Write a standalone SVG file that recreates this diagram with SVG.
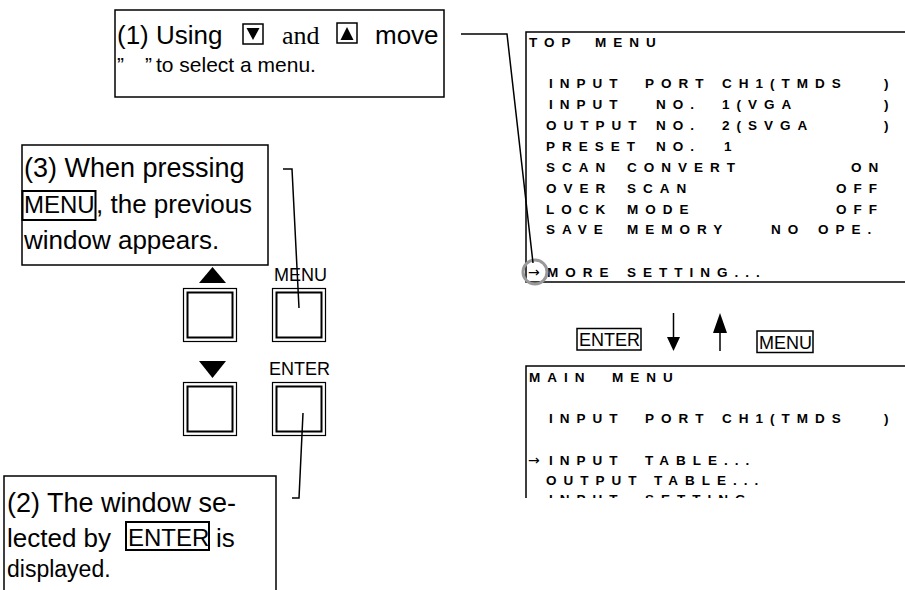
<svg xmlns="http://www.w3.org/2000/svg" width="905" height="590" viewBox="0 0 905 590">
<defs>
<style>
.s{font-family:"Liberation Sans",Arial,sans-serif;fill:#000}
.t{font-size:26px}
.t1{font-size:27px}
.lb{font-size:18px}
.m{font-family:"Liberation Sans",Arial,sans-serif;font-weight:bold;font-size:13.5px;letter-spacing:7px;fill:#000}
.ar{font-family:"DejaVu Sans","Liberation Sans",sans-serif;font-size:14px;fill:#000}
.box{fill:#fff;stroke:#000;stroke-width:1.5}
.ln{fill:none;stroke:#000;stroke-width:1.5}
.kb{fill:none;stroke:#000;stroke-width:2}
.ic{fill:none;stroke:#000;stroke-width:1.5}
.bo{fill:#fff;stroke:#000;stroke-width:1.2}
.bi{fill:none;stroke:#000;stroke-width:2}
</style>
<clipPath id="clipMain"><rect x="0" y="0" width="905" height="498"/></clipPath>
</defs>
<rect width="905" height="590" fill="#fff"/>

<g id="note1">
<rect class="box" x="115" y="10" width="329" height="87"/>
<text class="s t" x="117" y="44">(1) Using</text>
<rect class="ic" x="243" y="24" width="20" height="20"/>
<polygon points="246.5,28 259.5,28 253,40"/>
<text x="282" y="44" font-family="'Liberation Serif',serif" font-size="26">and</text>
<rect class="ic" x="337" y="23" width="20" height="20"/>
<polygon points="340.5,40 353.5,40 347,27"/>
<text class="s t" x="375" y="44">move</text>
<text class="s" font-size="21" x="117" y="72">”</text>
<text class="s" font-size="21" x="145" y="72">”</text>
<text class="s" font-size="21" x="156" y="72">to select a menu.</text>
</g>

<g id="note3">
<rect class="box" x="22" y="145" width="246" height="120"/>
<text class="s t1" x="24" y="177">(3) When pressing</text>
<rect class="kb" x="22.5" y="191" width="73" height="29"/>
<text class="s" font-size="24" x="24" y="213">MENU</text>
<text class="s t" x="96" y="213">, the previous</text>
<text class="s t" x="24" y="249">window appears.</text>
</g>

<g id="note2">
<rect class="box" x="4" y="476" width="272" height="130"/>
<text class="s t1" x="7" y="512">(2) The window se-</text>
<text class="s t" x="7" y="547">lected by</text>
<rect class="kb" x="126" y="522" width="83" height="28"/>
<text class="s" font-size="24" x="128" y="546">ENTER</text>
<text class="s t" x="216" y="547">is</text>
<text class="s" font-size="23" x="7" y="577">displayed.</text>
</g>

<g id="btn-up">
<polygon points="199,283 226,283 212.5,267"/>
<rect class="bo" x="183.5" y="288.5" width="53" height="53"/>
<rect class="bi" x="187.5" y="292.5" width="45" height="45"/>
</g>
<g id="btn-menu">
<text class="s lb" x="274" y="281">MENU</text>
<rect class="bo" x="272.5" y="288.5" width="53" height="53"/>
<rect class="bi" x="276.5" y="292.5" width="45" height="45"/>
</g>
<g id="btn-down">
<polygon points="199,361 226,361 212.5,378"/>
<rect class="bo" x="183.5" y="382.5" width="53" height="53"/>
<rect class="bi" x="187.5" y="386.5" width="45" height="45"/>
</g>
<g id="btn-enter">
<text class="s lb" x="269" y="375">ENTER</text>
<rect class="bo" x="272.5" y="382.5" width="53" height="53"/>
<rect class="bi" x="276.5" y="386.5" width="45" height="45"/>
</g>

<g id="top-menu">
<path class="ln" d="M905,32 H526 V282 H905"/>
<text class="m" y="47"><tspan x="529">TOP</tspan><tspan x="595">MENU</tspan></text>
<text class="m" y="88"><tspan x="549">INPUT</tspan><tspan x="645">PORT</tspan><tspan x="722">CH1(TMDS</tspan><tspan x="884">)</tspan></text>
<text class="m" y="109"><tspan x="549">INPUT</tspan><tspan x="656">NO.</tspan><tspan x="722">1(VGA</tspan><tspan x="884">)</tspan></text>
<text class="m" y="130"><tspan x="546">OUTPUT</tspan><tspan x="656">NO.</tspan><tspan x="722">2(SVGA</tspan><tspan x="884">)</tspan></text>
<text class="m" y="151"><tspan x="546">PRESET</tspan><tspan x="656">NO.</tspan><tspan x="724">1</tspan></text>
<text class="m" y="172"><tspan x="546">SCAN</tspan><tspan x="627">CONVERT</tspan><tspan x="851">ON</tspan></text>
<text class="m" y="193"><tspan x="546">OVER</tspan><tspan x="627">SCAN</tspan><tspan x="836">OFF</tspan></text>
<text class="m" y="214"><tspan x="546">LOCK</tspan><tspan x="627">MODE</tspan><tspan x="836">OFF</tspan></text>
<text class="m" y="234"><tspan x="546">SAVE</tspan><tspan x="627">MEMORY</tspan><tspan x="771">NO</tspan><tspan x="818">OPE.</tspan></text>
<text class="ar" x="528" y="277">→</text>
<text class="m" y="277"><tspan x="547">MORE</tspan><tspan x="627">SETTING...</tspan></text>
<circle cx="535" cy="272" r="12" fill="none" stroke="#999" stroke-width="3"/>
</g>

<g id="nav">
<rect class="ic" x="577" y="328.5" width="64" height="21.5"/>
<text class="s lb" x="579" y="346">ENTER</text>
<line class="ln" x1="673.5" y1="313" x2="673.5" y2="339"/>
<polygon points="667,337 680,337 673.5,351"/>
<line class="ln" x1="720" y1="331" x2="720" y2="351"/>
<polygon points="713,333 727,333 720,313"/>
<rect class="ic" x="757" y="331" width="56" height="21.5"/>
<text class="s lb" x="759" y="349">MENU</text>
</g>

<g id="main-menu" clip-path="url(#clipMain)">
<path class="ln" d="M905,366 H526 V505"/>
<text class="m" y="382"><tspan x="529">MAIN</tspan><tspan x="612">MENU</tspan></text>
<text class="m" y="423"><tspan x="549">INPUT</tspan><tspan x="645">PORT</tspan><tspan x="722">CH1(TMDS</tspan><tspan x="884">)</tspan></text>
<text class="ar" x="528" y="465">→</text>
<text class="m" y="465"><tspan x="549">INPUT</tspan><tspan x="645">TABLE...</tspan></text>
<text class="m" y="485"><tspan x="546">OUTPUT</tspan><tspan x="654">TABLE...</tspan></text>
<text class="m" y="504"><tspan x="549">INPUT</tspan><tspan x="645">SETTING...</tspan></text>
</g>

<g id="connectors">
<polyline class="ln" points="461,34 507,34 533,263"/>
<polyline class="ln" points="283,169 292,169 299,308"/>
<polyline class="ln" points="303,413 299,498 292,498"/>
</g>
</svg>
